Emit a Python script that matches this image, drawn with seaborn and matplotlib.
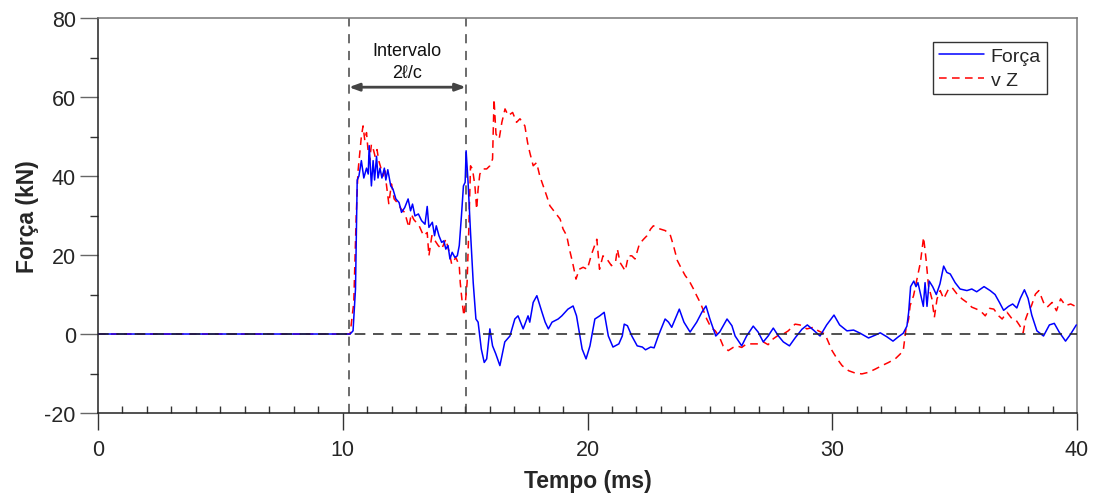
import matplotlib
matplotlib.use("Agg")
import matplotlib.pyplot as plt
import seaborn as sns
import pandas as pd
from matplotlib.ticker import MultipleLocator

# ---- data ----
t_forca = [0, 10.3, 10.42, 10.52, 10.59, 10.66, 10.76, 10.86, 10.97, 11.04, 11.08, 11.17, 11.24, 11.30,
           11.38, 11.44, 11.52, 11.60, 11.70, 11.76, 11.84, 11.96, 12.05, 12.17, 12.30, 12.40, 12.53,
           12.67, 12.77, 12.85, 12.95, 13.09, 13.22, 13.36, 13.45, 13.52, 13.66, 13.75, 13.82, 13.93,
           14.04, 14.13, 14.21, 14.30, 14.38, 14.47, 14.58, 14.68, 14.76, 14.85, 14.93, 15.00, 15.04,
           15.12, 15.22, 15.33, 15.44, 15.53, 15.66, 15.78, 15.88, 16.01, 16.12, 16.25, 16.42, 16.62,
           16.83, 17.03, 17.16, 17.37, 17.57, 17.64, 17.78, 17.93, 18.14, 18.27, 18.40, 18.55, 18.80,
           18.95, 19.20, 19.41, 19.55, 19.78, 19.94, 20.10, 20.30, 20.50, 20.68, 20.85, 21.04, 21.28,
           21.42, 21.50, 21.63, 21.81, 22.03, 22.24, 22.37, 22.58, 22.72, 22.89, 23.17, 23.31, 23.44,
           23.58, 23.75, 23.94, 24.19, 24.46, 24.67, 24.84, 25.00, 25.24, 25.40, 25.70, 25.90, 26.03,
           26.30, 26.50, 26.77, 26.97, 27.18, 27.38, 27.59, 27.80, 28.00, 28.25, 28.48, 28.76, 28.98,
           29.23, 29.50, 29.77, 30.07, 30.30, 30.60, 30.87, 31.14, 31.48, 31.75, 31.96, 32.23, 32.48,
           32.70, 32.90, 33.05, 33.12, 33.20, 33.33, 33.42, 33.50, 33.72, 33.79, 33.87, 33.96, 34.10,
           34.25, 34.40, 34.55, 34.68, 34.82, 35.02, 35.22, 35.50, 35.70, 35.90, 36.20, 36.45, 36.65,
           36.83, 37.00, 37.20, 37.37, 37.54, 37.68, 37.85, 38.00, 38.15, 38.36, 38.63, 38.87, 39.07,
           39.27, 39.53, 39.74, 39.97]
forca = [0, 0, 0.8, 11.4, 39, 40, 43.9, 39.5, 42, 40.5, 47.7, 37.5, 43.9, 39,
         45, 39.5, 42, 39.5, 42, 39, 41.6, 37.5, 36.7, 34.2, 33.3, 30.8, 32,
         34.2, 31.2, 32.9, 29.9, 30.4, 28.7, 27.8, 32.3, 27, 28.3, 24.9, 27.4, 24.9,
         23.2, 23.6, 21.5, 22.4, 19, 20.7, 19.4, 19.8, 22.4, 30, 37.5, 38.4, 46.4,
         38.4, 25.7, 13, 3.8, 3, -3.8, -7.2, -6.3, 1.3, -3, -5, -8, -2,
         -0.5, 3.8, 4.6, 1.3, 4.6, 3, 8, 9.7, 5.5, 3, 1.3, 3, 3.8,
         4.6, 6.3, 7.1, 4.6, -3.8, -6.3, -3, 3.8, 4.6, 5.5, -0.5, -3.3, -2.5,
         -0.5, 2.5, 2.1, -0.5, -3, -3.3, -4, -3.3, -3.5, -0.5, 3.8, 3, 1.7,
         3.8, 6.3, 3, 0.5, 3, 5.5, 7.1, 3.8, -0.5, 0.5, 3.8, 2.1, -0.5,
         -3, -0.5, 2, 0.5, -2, -0.5, 1.5, -0.5, -2, -3, -1, 1.2, 2.3,
         1, -0.5, 2.3, 4.8, 2.3, 0.8, 1, 0.2, -1, -0.3, 0.3, -0.7, -1.8,
         -0.7, 0.2, 2, 5.5, 12, 13.4, 12, 13, 7, 13, 7, 13.4, 12,
         10, 12.7, 17.2, 15.6, 15.2, 13, 11.4, 11, 11.4, 10.7, 12, 11, 10,
         8, 6, 7, 7.6, 6.6, 9, 11.2, 9, 4.8, 0.8, -0.5, 2.3, 2.7,
         0.5, -1.8, 0, 2.3]

t_vz = [0, 10.3, 10.45, 10.55, 10.62, 10.70, 10.76, 10.83, 10.90, 10.97, 11.04, 11.10, 11.17, 11.24,
        11.32, 11.40, 11.47, 11.56, 11.65, 11.72, 11.78, 11.88, 11.99, 12.10, 12.26, 12.39, 12.53,
        12.70, 12.80, 12.90, 13.12, 13.30, 13.45, 13.52, 13.64, 13.73, 13.90, 14.04, 14.21, 14.35,
        14.45, 14.62, 14.76, 14.80, 14.88, 14.95, 15.01, 15.08, 15.15, 15.22, 15.30, 15.40, 15.47,
        15.53, 15.60, 15.74, 15.88, 16.01, 16.12, 16.18, 16.26, 16.39, 16.50, 16.63, 16.76, 16.94,
        17.10, 17.24, 17.44, 17.55, 17.64, 17.78, 17.92, 18.05, 18.19, 18.33, 18.46, 18.67, 18.88,
        19.00, 19.15, 19.26, 19.39, 19.53, 19.66, 19.82, 19.99, 20.17, 20.38, 20.49, 20.63, 20.79,
        20.98, 21.15, 21.22, 21.33, 21.54, 21.67, 21.81, 21.94, 22.12, 22.29, 22.43, 22.58, 22.69,
        22.96, 23.17, 23.37, 23.51, 23.67, 23.85, 23.99, 24.15, 24.33, 24.46, 24.60, 24.74, 24.87,
        25.04, 25.22, 25.39, 25.54, 25.75, 25.95, 26.10, 26.30, 26.50, 26.70, 26.97, 27.18, 27.38,
        27.59, 27.80, 28.00, 28.20, 28.48, 28.68, 28.96, 29.23, 29.43, 29.70, 29.84, 29.99, 30.20,
        30.40, 30.67, 30.94, 31.21, 31.48, 31.75, 32.03, 32.30, 32.57, 32.77, 32.90, 33.01, 33.12,
        33.18, 33.32, 33.46, 33.60, 33.73, 33.83, 33.93, 34.07, 34.17, 34.28, 34.41, 34.55, 34.75,
        34.89, 35.10, 35.30, 35.50, 35.70, 35.90, 36.11, 36.25, 36.43, 36.60, 36.80, 36.94, 37.14,
        37.35, 37.52, 37.66, 37.80, 37.90, 38.00, 38.14, 38.30, 38.44, 38.63, 38.78, 38.98, 39.16,
        39.33, 39.53, 39.74, 40.00]
vz = [0, 0, 8, 30, 41, 46, 50, 52.7, 49, 51, 46, 44, 48, 47,
      45, 46.7, 43.9, 42, 40, 42, 38, 33, 38, 34.2, 33, 31.6, 30.8,
      27, 30.4, 29, 27.4, 24.9, 25.7, 19.8, 24.9, 24, 22.4, 21.5, 24, 20.7,
      17.7, 19.4, 17.3, 13, 8, 4.6, 8, 13, 26.6, 42.6, 41.8, 37.5, 31.6,
      36.7, 40.5, 41.8, 41.8, 42.6, 44.3, 59.5, 50.6, 49.4, 53.6, 57, 55.3, 56.1,
      53.6, 54.5, 52.7, 48.5, 46, 42.6, 43.4, 40, 37.5, 35, 32.5, 30.8, 29.1,
      26.6, 24.9, 21.5, 18.1, 13.9, 16.4, 16.9, 16.4, 20.3, 24, 16.4, 19.8, 19,
      17.3, 18.5, 21.5, 18.1, 16, 19.8, 19.8, 19, 22.8, 24, 24.9, 26.6, 27.4,
      26.6, 26.2, 25.3, 22.4, 18.6, 16.4, 14.8, 13.5, 11.4, 9.7, 8, 5.9, 3.8,
      1.7, 0.8, -0.8, -3, -4.2, -3.4, -3, -3.4, -2.5, -2.5, -2.5, -2, -2.7,
      -1.2, -0.3, 0, 0.8, 2.5, 2.3, 1.3, 1.7, 0.8, 0, -2, -4.2, -6.3,
      -8, -9.3, -9.9, -10.1, -9.7, -8.9, -8, -7.2, -6.3, -5.1, -4.2, 1.3, 3.8,
      7.2, 9.7, 13.9, 18.1, 24.5, 19, 12.2, 8.9, 4.2, 8.9, 11, 8.9, 11.4,
      11.8, 10.1, 8.9, 8, 6.8, 6.3, 5.5, 4.6, 6.5, 6.3, 4.6, 3.8, 5.5,
      3.8, 3.4, 2.1, 0.4, 3.8, 5.5, 7.2, 10.1, 11, 8, 6.8, 8, 5.9,
      8.9, 7.2, 7.6, 6.8]

interval_start = 10.25
interval_end = 15.03
series_labels = ["Força", "v Z"]

# ---- figure ----
sns.set_style("ticks")
plt.rcParams["font.family"] = ["Liberation Sans", "DejaVu Sans"]
plt.rcParams["axes.unicode_minus"] = False

fig = plt.figure(figsize=(10.95, 5.02), dpi=100)
ax = fig.add_axes([0.0895, 0.1753, 0.8941, 0.7867])

df_f = pd.DataFrame({"t": t_forca, "v": forca})
df_v = pd.DataFrame({"t": t_vz, "v": vz})

sns.lineplot(data=df_f, x="t", y="v", ax=ax, color="#0000ff", lw=1.1,
             sort=False, estimator=None, label=series_labels[0], zorder=4)
sns.lineplot(data=df_v, x="t", y="v", ax=ax, color="#ff0000", lw=1.1,
             sort=False, estimator=None, label=series_labels[1], zorder=3,
             linestyle=(0, (5, 3.5)))

# reference lines
ax.axhline(0, color="#222222", lw=1.1, ls=(0, (7, 5)), zorder=5)
for xv in (interval_start, interval_end):
    ax.axvline(xv, color="#444444", lw=1.1, ls=(0, (6, 5)), zorder=2)

# interval arrow and label
ax.annotate("", xy=(interval_start, 62.5), xytext=(interval_end, 62.5),
            arrowprops=dict(arrowstyle="<|-|>,head_length=0.6,head_width=0.22",
                            color="#444444", lw=2, shrinkA=0, shrinkB=0))
ax.text((interval_start + interval_end) / 2, 69.0, "Intervalo\n2\u2113/c", ha="center",
        va="center", fontsize=13, linespacing=1.4, color="#111111")

ax.set_xlim(0, 40)
ax.set_ylim(-20, 80)
ax.xaxis.set_major_locator(MultipleLocator(10))
ax.xaxis.set_minor_locator(MultipleLocator(1))
ax.yaxis.set_major_locator(MultipleLocator(20))
ax.yaxis.set_minor_locator(MultipleLocator(10))

ax.tick_params(axis="x", which="major", direction="out", length=12, width=1,
               labelsize=15.5, pad=7, color="#333333")
ax.tick_params(axis="x", which="minor", direction="in", length=5, width=1, color="#333333")
ax.tick_params(axis="y", which="major", direction="out", length=13, width=1,
               labelsize=15.5, pad=3, color="#666666")
ax.tick_params(axis="y", which="minor", direction="out", length=6, width=1, color="#333333")

for side in ("left", "bottom"):
    ax.spines[side].set_color("#222222")
    ax.spines[side].set_linewidth(1.1)
for side in ("top", "right"):
    ax.spines[side].set_color("#777777")
    ax.spines[side].set_linewidth(1.1)

ax.set_xlabel("Tempo (ms)", fontsize=16.5, fontweight="bold", labelpad=6)
ax.set_ylabel("Força (kN)", fontsize=16.5, fontweight="bold", labelpad=4)

leg = ax.legend(loc="upper right", bbox_to_anchor=(0.969, 0.94), fontsize=14,
                frameon=True, fancybox=False, borderpad=0.3, handlelength=2.3,
                handletextpad=0.35, labelspacing=0.3, borderaxespad=0)
leg.get_frame().set_edgecolor("#333333")
leg.get_frame().set_linewidth(1.0)
leg.get_frame().set_alpha(1)

fig.savefig("out.png", dpi=100)
